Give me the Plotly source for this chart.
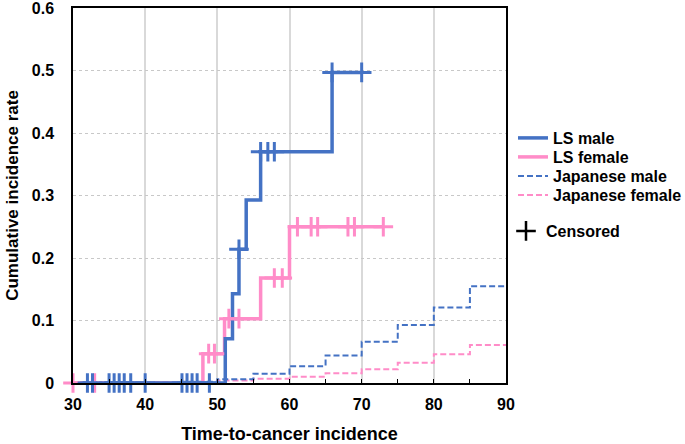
import numpy as np
import plotly.graph_objects as go

# ---------------- data ----------------
x_ticks = [30, 40, 50, 60, 70, 80, 90]
y_ticks = [0, 0.1, 0.2, 0.3, 0.4, 0.5, 0.6]
y_tick_text = ["0", "0.1", "0.2", "0.3", "0.4", "0.5", "0.6"]

# Lynch syndrome (LS) Kaplan-Meier step curves
ls_male_time = [31.0, 51.1, 52.1, 53.0, 54.0, 56.0, 65.9, 70.0]
ls_male_rate = [0.0, 0.071, 0.143, 0.214, 0.293, 0.370, 0.497, 0.497]
ls_male_censored = [32.0, 32.7, 35.0, 35.7, 36.4, 37.1, 38.0, 40.0,
                    45.1, 45.8, 46.5, 47.2, 48.9, 53.0, 56.0, 57.0, 57.9,
                    65.9, 70.0]

ls_female_time = [30.0, 48.0, 51.0, 56.0, 60.0, 73.0]
ls_female_rate = [0.0, 0.047, 0.103, 0.168, 0.250, 0.250]
ls_female_censored = [30.0, 33.0, 48.8, 49.6, 51.6, 53.0, 57.9, 59.0,
                      61.1, 63.0, 63.9, 68.1, 69.0, 73.0]

# Japanese general population cumulative incidence
jp_age = [30, 35, 40, 45, 50, 55, 60, 65, 70, 75, 80, 85, 90]
jp_male_rate = [0.0, 0.0005, 0.001, 0.002, 0.006, 0.015, 0.027, 0.044,
                0.066, 0.093, 0.121, 0.155, 0.155]
jp_female_rate = [0.0, 0.0003, 0.0007, 0.001, 0.004, 0.007, 0.010, 0.0155,
                  0.022, 0.0325, 0.046, 0.061, 0.061]

# ---------------- styling ----------------
BLUE = "#4472C4"
PINK = "#FF8CC8"
FONT = "Liberation Sans, Arial, sans-serif"
W, H = 685, 444


def step_value(times, rates, t):
    idx = np.searchsorted(np.asarray(times), t, side="right") - 1
    idx = max(idx, 0)
    return rates[idx]


ls_male_cens_y = [step_value(ls_male_time, ls_male_rate, t) for t in ls_male_censored]
ls_female_cens_y = [step_value(ls_female_time, ls_female_rate, t) for t in ls_female_censored]

fig = go.Figure()

fig.add_trace(go.Scatter(x=jp_age, y=jp_female_rate, mode="lines", name="Japanese female",
                         legend="legend4",
                         line=dict(color=PINK, width=2, dash="6px,3px", shape="hv")))
fig.add_trace(go.Scatter(x=jp_age, y=jp_male_rate, mode="lines", name="Japanese male",
                         legend="legend3",
                         line=dict(color=BLUE, width=2, dash="6px,3px", shape="hv")))
fig.add_trace(go.Scatter(x=ls_female_time, y=ls_female_rate, mode="lines", name="LS female",
                         legend="legend2",
                         line=dict(color=PINK, width=3.5, shape="hv")))
fig.add_trace(go.Scatter(x=ls_male_time, y=ls_male_rate, mode="lines", name="LS male",
                         legend="legend",
                         line=dict(color=BLUE, width=3.5, shape="hv")))

fig.add_trace(go.Scatter(x=ls_female_censored, y=ls_female_cens_y, mode="markers",
                         showlegend=False, cliponaxis=False,
                         marker=dict(symbol="cross-thin", size=14, color=PINK,
                                     line=dict(color=PINK, width=3))))
fig.add_trace(go.Scatter(x=ls_male_censored, y=ls_male_cens_y, mode="markers",
                         showlegend=False, cliponaxis=False,
                         marker=dict(symbol="cross-thin", size=14, color=BLUE,
                                     line=dict(color=BLUE, width=3))))
# legend-only entry for the censoring symbol
fig.add_trace(go.Scatter(x=[None], y=[None], mode="markers", name="Censored",
                         legend="legend5",
                         marker=dict(symbol="cross-thin", size=14, color="black",
                                     line=dict(color="black", width=2.5))))


def legend_at(px_x, px_y):
    return dict(x=px_x / W, y=1 - px_y / H, xref="container", yref="container",
                xanchor="left", yanchor="middle", bgcolor="rgba(0,0,0,0)",
                font=dict(family=FONT, size=16, weight="bold"), itemwidth=30)


fig.update_layout(
    width=W, height=H,
    margin=dict(l=73, r=178, t=8, b=61),
    plot_bgcolor="white", paper_bgcolor="white",
    font=dict(family=FONT, color="black", size=16),
    legend=legend_at(513, 138),
    legend2=legend_at(513, 157),
    legend3=legend_at(513, 176),
    legend4=legend_at(513, 195),
    legend5=legend_at(506, 231),
)

fig.update_xaxes(range=[30, 90], tickvals=x_ticks, showgrid=True,
                 gridcolor="#d9d9d9", gridwidth=1.5,
                 showline=True, linecolor="black", linewidth=1.5, mirror=True,
                 ticks="inside", ticklen=4, tickcolor="black",
                 minor=dict(ticks="inside", dtick=5, ticklen=4, tickcolor="black", showgrid=False),
                 tickfont=dict(family=FONT, size=16, weight="bold"),
                 ticklabelstandoff=6, ticklabeloverflow="allow",
                 title=dict(text="Time-to-cancer incidence", standoff=26,
                            font=dict(family=FONT, size=18, weight="bold")),
                 zeroline=False, automargin=False)
fig.update_yaxes(range=[0, 0.6], tickvals=y_ticks, ticktext=y_tick_text,
                 showgrid=True, gridcolor="#c8c8c8", gridwidth=1, griddash="dot",
                 showline=True, linecolor="black", linewidth=1.5, mirror=True,
                 ticks="", tickfont=dict(family=FONT, size=16, weight="bold"),
                 ticklabelstandoff=14, ticklabeloverflow="allow",
                 title=dict(text="Cumulative incidence rate", standoff=9,
                            font=dict(family=FONT, size=17, weight="bold")),
                 zeroline=False, automargin=False)

fig.write_html("out.html", config={"displayModeBar": False},
               post_script="document.body.style.margin='0';")
